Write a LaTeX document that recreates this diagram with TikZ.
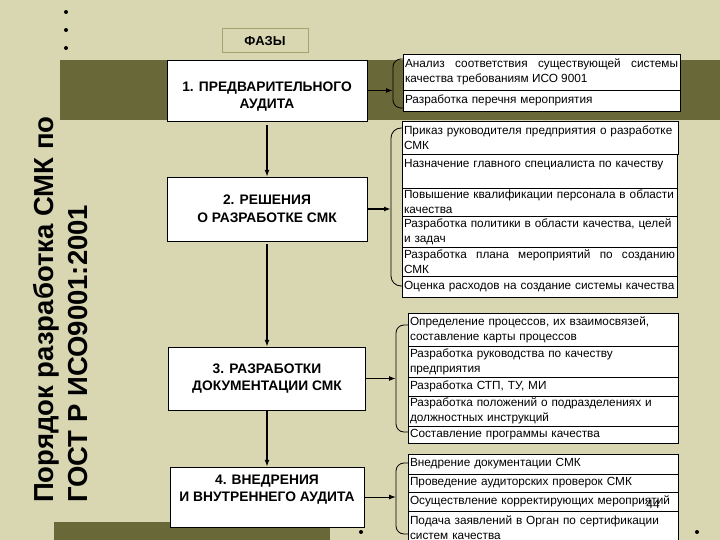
\documentclass[tikz,border=0pt]{standalone}
\usepackage{fontspec}
\setmainfont{Liberation Sans}
\usetikzlibrary{arrows.meta}

\definecolor{fon}{RGB}{217,214,178}
\definecolor{olivka}{RGB}{104,104,56}
\definecolor{ramka}{RGB}{168,163,110}
\hyphenpenalty=10000

\tikzset{
  faza/.style={draw, fill=white, align=center, inner sep=0pt,
    font=\fontsize{13.8}{17.5}\selectfont\bfseries},
  punkt/.style={draw, fill=white, anchor=north west, inner xsep=2pt, inner ysep=0pt,
    outer sep=0pt, align=left, font=\fontsize{11.8}{15}\selectfont},
  strelka/.style={-{Latex[length=7pt,width=5pt]}, line width=1.6pt},
  skobka/.style={line width=0.8pt, rounded corners=8pt},
  zagolovok/.style={rotate=90, anchor=base west, inner sep=0pt,
    font=\fontsize{27.5}{34}\selectfont\bfseries}
}

\begin{document}
\begin{tikzpicture}[x=1pt, y=-1pt]
  \useasboundingbox (0,0) rectangle (720,540);
  % Фон
  \fill[fon] (0,0) rectangle (720,540);
  \fill[olivka] (60,60) rectangle (720,120);
  \fill[olivka] (54,522) rectangle (330,540);
  \foreach \y in {12,30,48} \fill (66,\y) circle (2pt);
  \fill (361,532) circle (2pt);
  \fill (697,532) circle (2pt);

  % Заголовок
  \node[zagolovok] (zag1) at (53,503) {Порядок разработка СМК по};
  \node[zagolovok] (zag2) at (87,503) {ГОСТ Р ИСО9001:2001};

  % Фазы
  \node[draw=ramka, line width=1pt, minimum width=86pt, minimum height=24pt,
    font=\fontsize{13}{15}\selectfont\bfseries] (fazy) at (265,41) {ФАЗЫ};
  \node[faza, minimum width=200pt, minimum height=61pt] (f1) at (267,90.5)
    {\mbox{}\\[4pt]1. ПРЕДВАРИТЕЛЬНОГО\\АУДИТА};
  \node[faza, minimum width=200pt, minimum height=64pt] (f2) at (267,209)
    {2. РЕШЕНИЯ\\О РАЗРАБОТКЕ СМК};
  \node[faza, minimum width=197pt, minimum height=63pt] (f3) at (267,378.5)
    {3. РАЗРАБОТКИ\\ДОКУМЕНТАЦИИ СМК};
  \node[faza, minimum width=194pt, minimum height=60pt] (f4) at (267,497)
    {4. ВНЕДРЕНИЯ\\И ВНУТРЕННЕГО АУДИТА\\\mbox{}};

  \draw[strelka, shorten <=4pt] (f1) -- (f2);
  \draw[strelka, shorten <=3pt] (f2) -- (f3);
  \draw[strelka] (f3) -- (f4);

  % Скобки
  \coordinate (s1) at (393,90.5);
  \coordinate (s2) at (391,209);
  \coordinate (s3) at (396,378.5);
  \coordinate (s4) at (396,497);
  \draw[skobka] (403,59) -| (s1) |- (403,108);
  \draw[skobka, rounded corners=10pt] (402,128) -| (s2) |- (402,286);
  \draw[skobka] (408,325) -| (s3) |- (408,432);
  \draw[skobka] (408,463) -| (s4) |- (408,534);

  \draw[strelka] (f1) -- (s1);
  \draw[strelka] (f2) -- (s2);
  \draw[strelka] (f3) -- (s3);
  \draw[strelka, line width=1pt] (f4) -- (s4);

  % Группа 1
  \node[punkt, text width=273pt, minimum height=36pt, align=justify] (g1a) at (403,54)
    {Анализ соответствия существующей системы\linebreak качества требованиям ИСО 9001};
  \node[punkt, text width=273pt, minimum height=21pt] (g1b) at (g1a.south west)
    {Разработка перечня мероприятия};

  % Группа 2
  \node[punkt, text width=272pt, minimum height=33pt] (g2a) at (402,121)
    {Приказ руководителя предприятия о разработке\\СМК};
  \node[punkt, text width=271pt, minimum height=34pt] (g2b) at (g2a.south west)
    {Назначение главного специалиста по качеству\\\mbox{}};
  \node[punkt, text width=271pt, minimum height=28pt] (g2c) at (g2b.south west)
    {Повышение квалификации персонала в области\\качества};
  \node[punkt, text width=271pt, minimum height=31pt] (g2d) at (g2c.south west)
    {Разработка политики в области качества, целей\\и задач};
  \node[punkt, text width=271pt, minimum height=29pt, align=justify] (g2e) at (g2d.south west)
    {Разработка плана мероприятий по созданию\linebreak СМК};
  \node[punkt, text width=271pt, minimum height=21pt] (g2f) at (g2e.south west)
    {Оценка расходов на создание системы качества};

  % Группа 3
  \node[punkt, text width=266pt, minimum height=33pt] (g3a) at (408,313)
    {Определение процессов, их взаимосвязей,\\составление карты процессов};
  \node[punkt, text width=266pt, minimum height=31pt] (g3b) at (g3a.south west)
    {Разработка руководства по качеству\\предприятия};
  \node[punkt, text width=266pt, minimum height=19pt] (g3c) at (g3b.south west)
    {Разработка СТП, ТУ, МИ};
  \node[punkt, text width=266pt, minimum height=30pt] (g3d) at (g3c.south west)
    {Разработка положений о подразделениях и\\должностных инструкций};
  \node[punkt, text width=266pt, minimum height=17pt] (g3e) at (g3d.south west)
    {Составление программы качества};

  % Группа 4
  \node[punkt, text width=266pt, minimum height=20pt] (g4a) at (408,454)
    {Внедрение документации СМК};
  \node[punkt, text width=266pt, minimum height=18pt] (g4b) at (g4a.south west)
    {Проведение аудиторских проверок СМК};
  \node[punkt, text width=266pt, minimum height=19pt] (g4c) at (g4b.south west)
    {Осуществление корректирующих мероприятий};
  \node[punkt, text width=266pt, minimum height=34pt] (g4d) at (g4c.south west)
    {Подача заявлений в Орган по сертификации\\систем качества};

  \node[font=\fontsize{12}{14}\selectfont] (nomer) at (653,504) {44};
\end{tikzpicture}
\end{document}
